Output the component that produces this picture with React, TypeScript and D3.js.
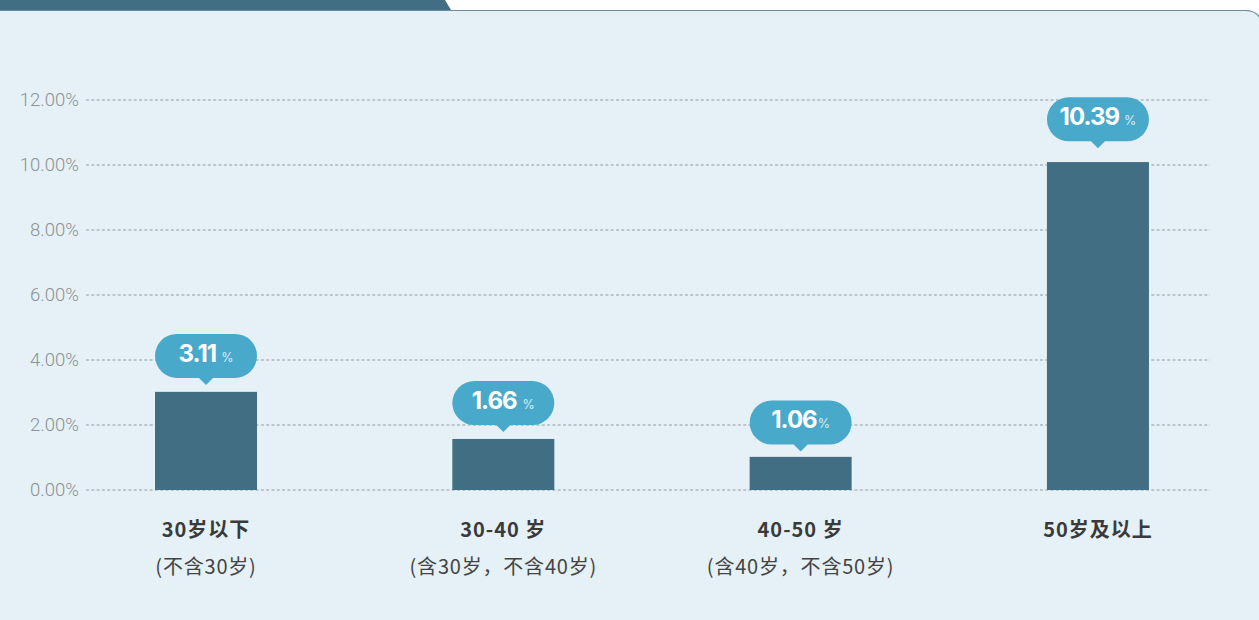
import React, { useEffect, useRef } from "react";
import * as d3 from "d3";

// category labels (two lines under each bar)
const categories = ["30岁以下", "30-40 岁", "40-50 岁", "50岁及以上"];
const subLabels = ["(不含30岁)", "(含30岁，不含40岁)", "(含40岁，不含50岁)", ""];
// values printed in the bubbles
const labelValues = [3.11, 1.66, 1.06, 10.39];
const labelText = ["3.11", "1.66", "1.06", "10.39"];
const pctGap = [5, 6, 1, 5];
// bar heights as drawn in the picture
const barValues = [3.02, 1.57, 1.02, 10.09];
// y axis ticks
const yTicks = [0, 2, 4, 6, 8, 10, 12];

const W = 1259, H = 620;

export default function App() {
    const ref = useRef<SVGSVGElement>(null);

    useEffect(() => {
        const svg = d3.select(ref.current);
        svg.selectAll("*").remove();

        // card background + header tab
        svg.append("rect").attr("width", W).attr("height", H).attr("fill", "#ffffff");
        svg.append("path")
            .attr("d", `M0,10.5 L1245,10.5 Q1258,10.5 1262,22 L1262,${H} L0,${H} Z`)
            .attr("fill", "#e5f1f6");
        svg.append("path")
            .attr("d", "M0,10.5 L1245,10.5 Q1258,10.5 1262,22")
            .attr("fill", "none").attr("stroke", "#6a8c9a").attr("stroke-width", 1.2);
        svg.append("path")
            .attr("d", "M0,0 L445,0 L451,10 L0,10 Z")
            .attr("fill", "#416e82");

        const y = d3.scaleLinear().domain([0, 12]).range([490, 100]);
        const x = d3.scalePoint<string>().domain(categories).range([57.35, 1246.6]).padding(0.5);
        const bw = 102;

        const g = svg.append("g");

        // grid + ticks
        g.selectAll(".grid").data(yTicks).join("line").attr("class", "grid")
            .attr("x1", 86).attr("x2", 1210)
            .attr("y1", d => y(d)).attr("y2", d => y(d))
            .attr("stroke", "#959c9f").attr("stroke-width", 1)
            .attr("stroke-dasharray", "3,2.3");
        g.selectAll(".tick").data(yTicks).join("text").attr("class", "tick")
            .attr("x", 79).attr("y", d => y(d)).attr("dy", "0.35em")
            .attr("text-anchor", "end")
            .style("font-family", "Roboto, 'Noto Sans', sans-serif")
            .style("font-size", "18.5px").style("font-weight", 300)
            .attr("fill", "#8c9295")
            .text(d => d3.format(".2f")(d) + "%");

        // bars
        g.selectAll(".bar").data(barValues).join("rect").attr("class", "bar")
            .attr("x", (d, i) => x(categories[i])! - bw / 2)
            .attr("width", bw)
            .attr("y", d => y(d))
            .attr("height", d => y(0) - y(d))
            .attr("fill", "#416e82");

        // bubbles
        const bub = g.selectAll(".bub").data(labelValues).join("g").attr("class", "bub")
            .attr("transform", (d, i) => `translate(${x(categories[i])}, ${y(d) - 4})`);
        bub.append("path")
            .attr("d", () => {
                const w = 102, h = 44, r = 22, tw = 7, th = 7;
                const top = -th - h;
                return `M${-w / 2 + r},${top} L${w / 2 - r},${top} A${r},${r} 0 0 1 ${w / 2 - r},${-th}` +
                    ` L${tw},${-th} L0,0 L${-tw},${-th} L${-w / 2 + r},${-th} A${r},${r} 0 0 1 ${-w / 2 + r},${top} Z`;
            })
            .attr("fill", "#48a9cb");
        const t = bub.append("text")
            .attr("x", 0).attr("y", -7 - 22).attr("dy", "0.36em")
            .attr("text-anchor", "middle")
            .style("font-family", "Inter, Roboto, sans-serif")
            .attr("fill", "#ffffff");
        t.append("tspan")
            .style("font-size", "24px").style("font-weight", 700)
            .style("letter-spacing", "-1px")
            .text((d, i) => labelText[i]);
        t.append("tspan")
            .attr("dx", (d, i) => pctGap[i])
            .style("font-size", "12.5px").style("font-weight", 400)
            .attr("fill", "#d8eef6")
            .text("%");

        // category labels
        g.selectAll(".cat").data(categories).join("text").attr("class", "cat")
            .attr("x", d => x(d)!).attr("y", 530).attr("dy", "0.35em")
            .attr("text-anchor", "middle")
            .style("font-family", "'Noto Sans CJK SC', sans-serif")
            .style("font-size", "20px").style("font-weight", 700)
            .style("letter-spacing", "1px")
            .attr("fill", "#3a3a3a")
            .text(d => d);
        g.selectAll(".sub").data(subLabels).join("text").attr("class", "sub")
            .attr("x", (d, i) => x(categories[i])!).attr("y", 567).attr("dy", "0.35em")
            .attr("text-anchor", "middle")
            .style("font-family", "'Noto Sans CJK SC', sans-serif")
            .style("font-size", "20px").style("font-weight", 400)
            .style("letter-spacing", "0.8px")
            .attr("fill", "#444444")
            .text(d => d);
    }, []);

    return (
        <svg ref={ref} width={W} height={H}
            style={{ position: "absolute", left: 0, top: 0, display: "block" }} />
    );
}
